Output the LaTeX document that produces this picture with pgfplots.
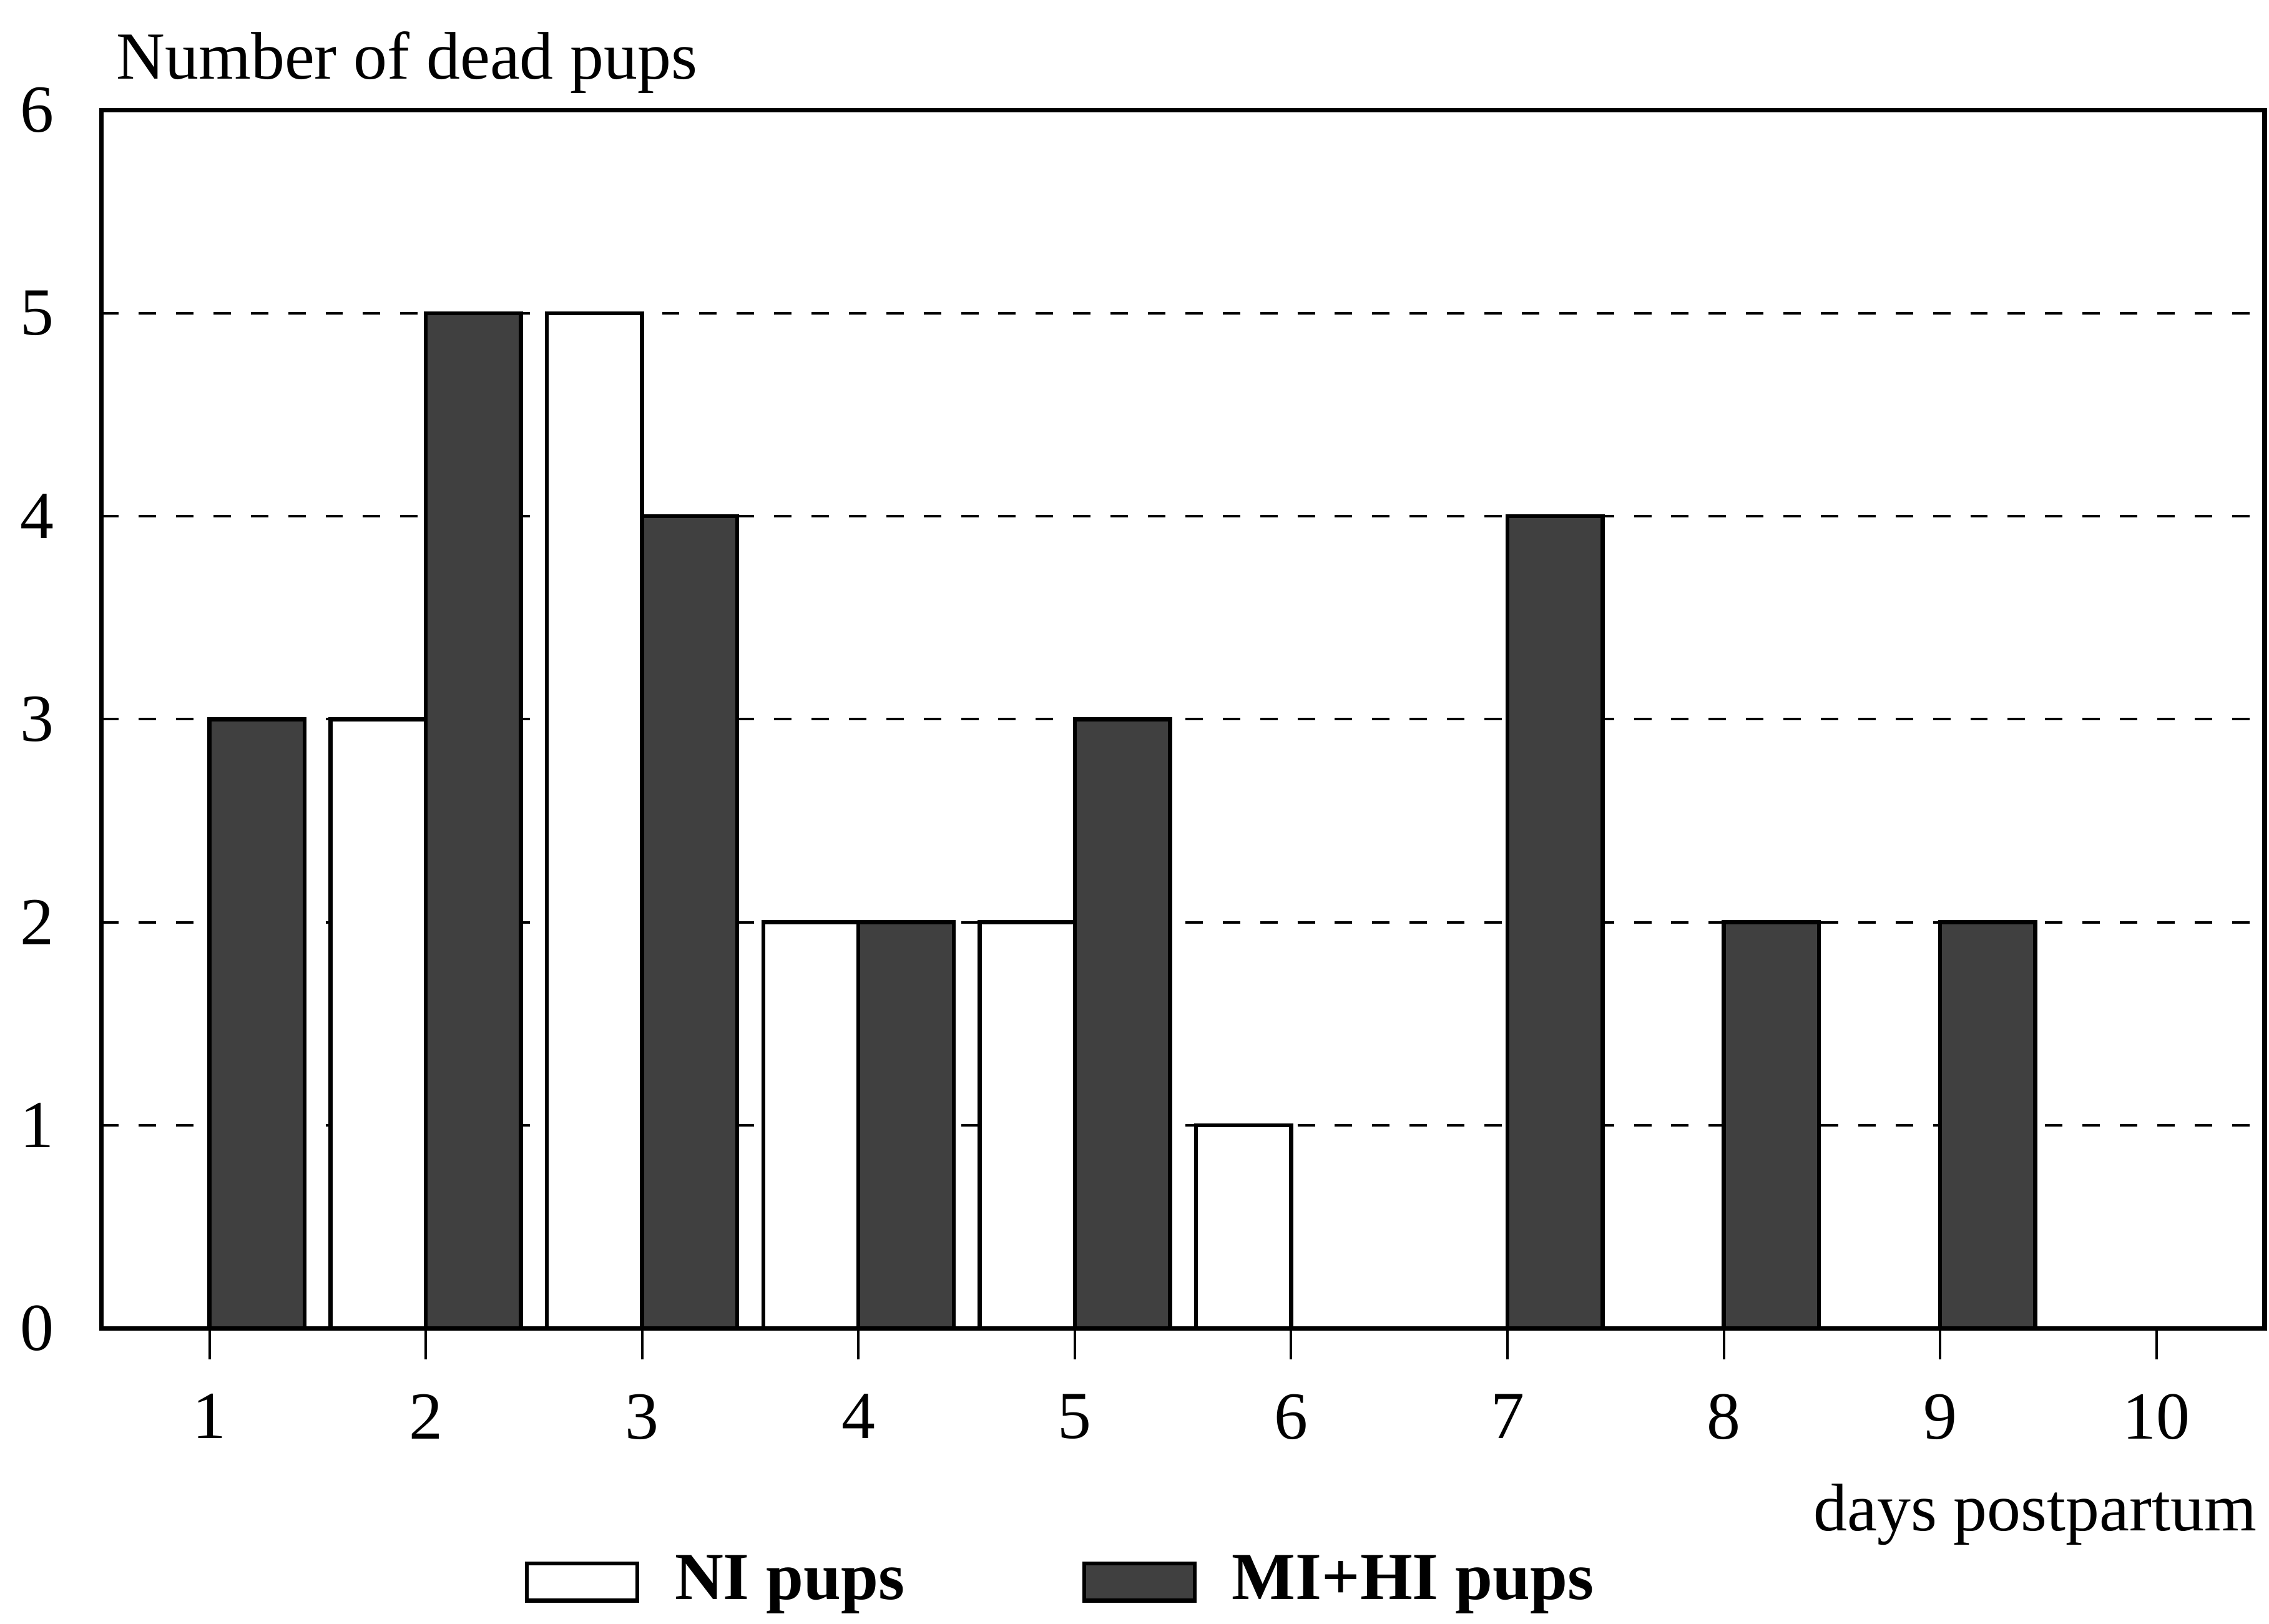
\documentclass[border=0pt]{standalone}
\usepackage{fontspec}
\setmainfont{Liberation Serif}
\usepackage{pgfplots}
\pgfplotsset{compat=1.18}
\definecolor{darkbar}{gray}{0.25}
\begin{document}
\fontsize{13.5}{16}\selectfont
\begin{tikzpicture}
\useasboundingbox (-0.714,-2.082) rectangle (15.286,9.367);
\begin{axis}[
  scale only axis, width=15.255cm, height=8.59cm,
  xmin=0.5, xmax=10.5, ymin=0, ymax=6,
  xtick={1,...,10}, ytick={0,...,6},
  clip=false,
  axis line style={line width=0.9pt},
  tick align=outside, xtick pos=bottom, ytick pos=left,
  major tick length=0.22cm,
  ymajorgrids,
  grid style={dash pattern=on 3.5pt off 4pt, line width=0.5pt, black},
  ytick style={draw=none},
  xtick style={line width=0.5pt, black},
  ticklabel style={font=\fontsize{13.5}{16}\selectfont},
  /pgf/number format/assume math mode=true,
  xticklabel style={yshift=-0.08cm},
  yticklabel style={xshift=0.05cm},
  ybar, bar width=0.44,
  legend style={at={(axis description cs:0.1953,-0.2084)}, anchor=west,
    draw=none, fill=none, legend columns=2,
    font=\bfseries\fontsize{13.5}{16}\selectfont,
    inner sep=0pt, nodes={inner sep=0pt},
    /tikz/every odd column/.append style={column sep=0.25cm},
    /tikz/every even column/.append style={column sep=1.25cm}},
  legend cell align=left,
  legend image code/.code={\draw[#1, line width=0.8pt] (0cm,-0.13cm) rectangle (0.78cm,0.13cm);},
]
\addplot[draw=black, fill=white, line width=0.8pt, bar shift=-0.22] coordinates {(2,3) (3,5) (4,2) (5,2) (6,1)};
\addplot[draw=black, fill=darkbar, line width=0.8pt, bar shift=0.22] coordinates {(1,3) (2,5) (3,4) (4,2) (5,3) (7,4) (8,2) (9,2)};
\legend{NI pups, MI+HI pups}
\node[anchor=base west, inner sep=0pt] at (rel axis cs:0,1) [xshift=0.1cm, yshift=0.22cm] {Number of dead pups};
\node[anchor=base east, inner sep=0pt] at (rel axis cs:1,0) [xshift=-0.05cm, yshift=-1.43cm] {days postpartum};
\end{axis}
\end{tikzpicture}
\end{document}
